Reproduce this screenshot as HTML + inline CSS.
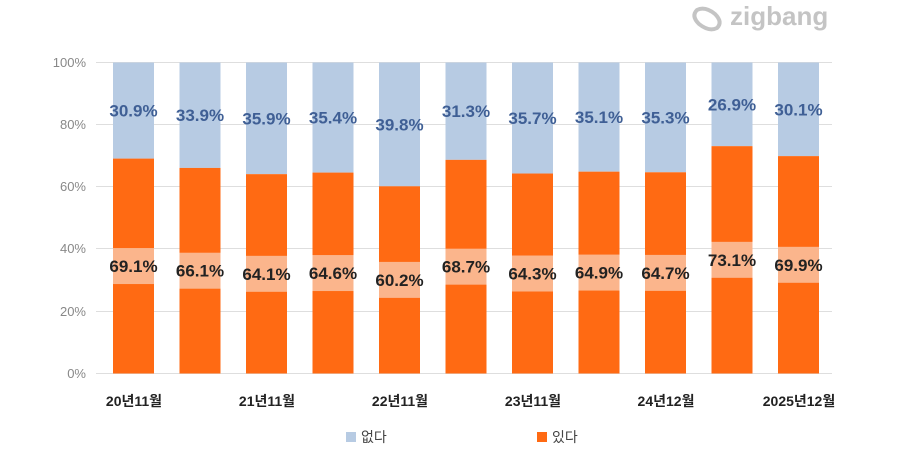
<!DOCTYPE html>
<html><head><meta charset="utf-8"><style>
body{margin:0;background:#fff;}
svg{display:block;font-family:"Liberation Sans","Noto Sans CJK KR",sans-serif;}
</style></head><body>
<svg width="900" height="450" viewBox="0 0 900 450" xmlns="http://www.w3.org/2000/svg">
<g stroke="#dedede" stroke-width="1">
<line x1="96" x2="832" y1="62.5" y2="62.5"/>
<line x1="96" x2="832" y1="124.5" y2="124.5"/>
<line x1="96" x2="832" y1="186.5" y2="186.5"/>
<line x1="96" x2="832" y1="248.5" y2="248.5"/>
<line x1="96" x2="832" y1="311.5" y2="311.5"/>
<line x1="96" x2="832" y1="373.5" y2="373.5"/>
</g>
<g fill="#888" font-size="13" text-anchor="end">
<text x="86" y="67">100%</text><text x="86" y="129">80%</text><text x="86" y="191">60%</text>
<text x="86" y="253">40%</text><text x="86" y="316">20%</text><text x="86" y="378">0%</text>
</g>
<g id="bars"></g>
<g fill="#222" font-size="14" font-weight="bold" text-anchor="middle">
<text x="134" y="406">20년11월</text><text x="267" y="406">21년11월</text><text x="400" y="406">22년11월</text>
<text x="533" y="406">23년11월</text><text x="666" y="406">24년12월</text><text x="799" y="406">2025년12월</text>
</g>
<rect x="346" y="432" width="10" height="10" fill="#b7cbe3"/>
<text x="361" y="442" font-size="14" fill="#444">없다</text>
<rect x="537" y="432" width="10" height="10" fill="#ff6a13"/>
<text x="552" y="442" font-size="14" fill="#444">있다</text>
<text x="730" y="25" font-size="26" font-weight="bold" fill="#c4c4c4">zigbang</text>
<path d="M697 10 q8 -4 18 4 q8 8 2 14 q-8 4 -18 -4 q-8 -8 -2 -14z" fill="none" stroke="#c4c4c4" stroke-width="4"/>
</svg>
<script>
(function(){
var v=[69.1,66.1,64.1,64.6,60.2,68.7,64.3,64.9,64.7,73.1,69.9];
var g=document.getElementById('bars'),s='';
var yT=62.5,yB=373.5,hh=yB-yT;
v.forEach(function(p,i){
 var x=113+i*66.5,w=41,yo=yB-hh*p/100,c=(yB+yo)/2,cb=(yT+yo)/2;
 s+='<rect x="'+x+'" y="'+yT+'" width="'+w+'" height="'+(yo-yT)+'" fill="#b7cbe3"/>';
 s+='<rect x="'+x+'" y="'+yo+'" width="'+w+'" height="'+(yB-yo)+'" fill="#ff6a13"/>';
 s+='<rect x="'+x+'" y="'+(c-18)+'" width="'+w+'" height="36" fill="#fbb58c"/>';
 s+='<text x="'+(x+w/2)+'" y="'+(c+6)+'" text-anchor="middle" font-size="17" font-weight="bold" fill="#222">'+p.toFixed(1)+'%</text>';
 s+='<text x="'+(x+w/2)+'" y="'+(cb+6)+'" text-anchor="middle" font-size="17" font-weight="bold" fill="#3f5f95">'+(100-p).toFixed(1)+'%</text>';
});
g.innerHTML=s;
})();
</script>
</body></html>
